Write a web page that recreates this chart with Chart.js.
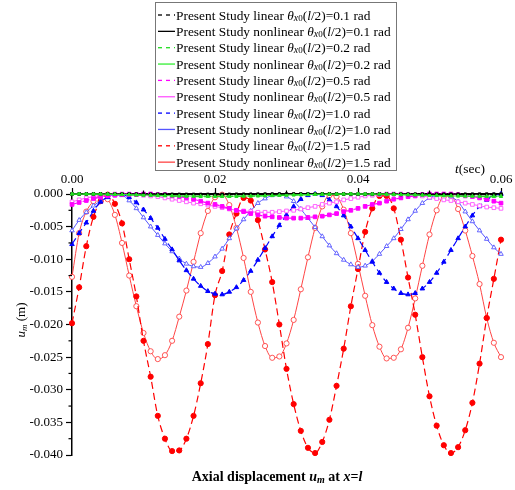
<!DOCTYPE html>
<html>
<head>
<meta charset="utf-8">
<script src="https://cdn.jsdelivr.net/npm/chart.js@4.4.1/dist/chart.umd.min.js"></script>
<style>
  html, body { margin: 0; padding: 0; background: #fff; }
  canvas { display: block; }
</style>
</head>
<body>
<canvas id="chart" width="515" height="490"></canvas>
<script>
// time axis (sec)
const times = [0, 0.001, 0.002, 0.003, 0.004, 0.005, 0.006, 0.007, 0.008, 0.009,
  0.010, 0.011, 0.012, 0.013, 0.014, 0.015, 0.016, 0.017, 0.018, 0.019,
  0.020, 0.021, 0.022, 0.023, 0.024, 0.025, 0.026, 0.027, 0.028, 0.029,
  0.030, 0.031, 0.032, 0.033, 0.034, 0.035, 0.036, 0.037, 0.038, 0.039,
  0.040, 0.041, 0.042, 0.043, 0.044, 0.045, 0.046, 0.047, 0.048, 0.049,
  0.050, 0.051, 0.052, 0.053, 0.054, 0.055, 0.056, 0.057, 0.058, 0.059, 0.060];

// axial displacement um (m)
const lin01 = [0, 0, 0, -0.00001, -0.00001, -0.00001, -0.00002, -0.00003, -0.00003, -0.00004, -0.00005, -0.00006, -0.00007, -0.00007, -0.00008, -0.00009, -0.00009, -0.00009, -0.0001, -0.0001, -0.0001,
  -0.0001, -0.0001, -0.00009, -0.00009, -0.00009, -0.00008, -0.00007, -0.00007, -0.00006, -0.00005, -0.00004, -0.00003, -0.00003, -0.00002, -0.00001, -0.00001, -0.00001, 0, 0, 0,
  0, 0, -0.00001, -0.00001, -0.00001, -0.00002, -0.00003, -0.00003, -0.00004, -0.00005, -0.00006, -0.00007, -0.00007, -0.00008, -0.00009, -0.00009, -0.00009, -0.0001, -0.0001, -0.0001];
const non01 = [0, 0, -0.00001, -0.00001, -0.00002, -0.00002, -0.00003, -0.00004, -0.00004, -0.00005, -0.00006, -0.00006, -0.00007, -0.00007, -0.00008, -0.00008, -0.00008, -0.00008, -0.00008, -0.00007, -0.00007,
  -0.00006, -0.00006, -0.00005, -0.00004, -0.00004, -0.00003, -0.00002, -0.00002, -0.00001, -0.00001, 0, 0, 0, -0.00001, -0.00001, -0.00002, -0.00002, -0.00003, -0.00004, -0.00004,
  -0.00005, -0.00006, -0.00006, -0.00007, -0.00007, -0.00008, -0.00008, -0.00008, -0.00008, -0.00007, -0.00007, -0.00006, -0.00005, -0.00004, -0.00004, -0.00003, -0.00002, -0.00001, -0.00001, 0];
const lin02 = [0, 0, -0.00001, -0.00002, -0.00004, -0.00006, -0.00008, -0.00011, -0.00014, -0.00017, -0.0002, -0.00023, -0.00026, -0.00029, -0.00032, -0.00034, -0.00036, -0.00038, -0.00039, -0.0004, -0.0004,
  -0.0004, -0.00039, -0.00038, -0.00036, -0.00034, -0.00032, -0.00029, -0.00026, -0.00023, -0.0002, -0.00017, -0.00014, -0.00011, -0.00008, -0.00006, -0.00004, -0.00002, -0.00001, 0, 0,
  0, -0.00001, -0.00002, -0.00004, -0.00006, -0.00008, -0.00011, -0.00014, -0.00017, -0.0002, -0.00023, -0.00026, -0.00029, -0.00032, -0.00034, -0.00036, -0.00038, -0.00039, -0.0004, -0.0004];
const non02 = [-0.00001, 0, 0, 0, -0.00001, -0.00003, -0.00005, -0.00007, -0.00009, -0.00012, -0.00015, -0.00018, -0.0002, -0.00023, -0.00026, -0.00028, -0.0003, -0.00032, -0.00033, -0.00034, -0.00034,
  -0.00034, -0.00034, -0.00033, -0.00031, -0.0003, -0.00027, -0.00025, -0.00022, -0.00019, -0.00016, -0.00013, -0.0001, -0.00008, -0.00005, -0.00004, -0.00002, -0.00001, 0, 0, 0,
  -0.00001, -0.00002, -0.00003, -0.00005, -0.00008, -0.0001, -0.00013, -0.00016, -0.00019, -0.00022, -0.00025, -0.00027, -0.0003, -0.00031, -0.00033, -0.00034, -0.00034, -0.00034, -0.00034, -0.00033];
const lin05 = [-0.0016, -0.0013, -0.0010, -0.0007, -0.0005, -0.0003, -0.0002, -0.0001, -0.0001, -0.0001,
  0, 0, -0.0001, -0.0001, -0.0003, -0.0004, -0.0006, -0.0008, -0.0011, -0.0014,
  -0.0016, -0.0019, -0.0022, -0.0025, -0.0027, -0.0030, -0.0032, -0.0034, -0.0035, -0.0036,
  -0.0037, -0.0037, -0.0037, -0.0036, -0.0035, -0.0034, -0.0032, -0.0030, -0.0027, -0.0025,
  -0.0022, -0.0019, -0.0016, -0.0014, -0.0011, -0.0008, -0.0006, -0.0004, -0.0003, -0.0001,
  0, 0, 0, 0, -0.0001, -0.0003, -0.0004, -0.0006, -0.0008, -0.0011, -0.0014];
const non05 = [-0.0012, -0.0009, -0.0006, -0.0004, -0.0002, -0.0001, 0, 0, 0, -0.0001,
  -0.0002, -0.0003, -0.0004, -0.0006, -0.0008, -0.0010, -0.0012, -0.0014, -0.0015, -0.0017,
  -0.0019, -0.0021, -0.0023, -0.0025, -0.0026, -0.0027, -0.0028, -0.0028, -0.0028, -0.0027,
  -0.0026, -0.0025, -0.0023, -0.0021, -0.0019, -0.0016, -0.0014, -0.0012, -0.0009, -0.0007,
  -0.0005, -0.0003, -0.0002, -0.0001, 0, 0, 0, -0.0001, -0.0002, -0.0003,
  -0.0005, -0.0007, -0.0009, -0.0010, -0.0012, -0.0014, -0.0016, -0.0018, -0.0020, -0.0021, -0.0022];
const lin10 = [-0.0077, -0.0060, -0.0044, -0.0026, -0.0012, -0.0005, -0.0001, -0.0001, -0.0005, -0.0013,
  -0.0024, -0.0037, -0.0052, -0.0069, -0.0085, -0.0102, -0.0117, -0.0130, -0.0141, -0.0149,
  -0.0153, -0.0154, -0.0150, -0.0143, -0.0132, -0.0118, -0.0101, -0.0083, -0.0065, -0.0048,
  -0.0032, -0.0019, -0.0008, -0.0002, 0, -0.0002, -0.0009, -0.0019, -0.0033, -0.0050,
  -0.0068, -0.0086, -0.0104, -0.0121, -0.0135, -0.0145, -0.0152, -0.0154, -0.0152, -0.0145,
  -0.0135, -0.0121, -0.0104, -0.0086, -0.0068, -0.0050, -0.0033, -0.0019, -0.0009, -0.0002, 0];
const non10 = [-0.0056, -0.0040, -0.0028, -0.0018, -0.0011, -0.0005, -0.0001, -0.0002, -0.0010, -0.0022,
  -0.0036, -0.0050, -0.0063, -0.0076, -0.0088, -0.0099, -0.0107, -0.0111, -0.0112, -0.0106,
  -0.0096, -0.0084, -0.0068, -0.0053, -0.0039, -0.0026, -0.0014, -0.0007, -0.0002, -0.0001,
  -0.0004, -0.0011, -0.0023, -0.0037, -0.0051, -0.0065, -0.0079, -0.0091, -0.0101, -0.0108,
  -0.0112, -0.0110, -0.0103, -0.0092, -0.0080, -0.0068, -0.0054, -0.0039, -0.0026, -0.0014,
  -0.0006, -0.0002, -0.0001, -0.0004, -0.0012, -0.0027, -0.0042, -0.0056, -0.0069, -0.0082, -0.0092];
const lin15 = [-0.0198, -0.0143, -0.0080, -0.0035, -0.0011, -0.0001, -0.0015, -0.0045, -0.0100, -0.0157,
  -0.0225, -0.0280, -0.0340, -0.0375, -0.0394, -0.0393, -0.0375, -0.0340, -0.0290, -0.0230,
  -0.0155, -0.0118, -0.0062, -0.0030, -0.0006, -0.0010, -0.0040, -0.0085, -0.0135, -0.0200,
  -0.0268, -0.0322, -0.0363, -0.0389, -0.0397, -0.0380, -0.0346, -0.0294, -0.0237, -0.0172,
  -0.0115, -0.0058, -0.0022, -0.0003, -0.0003, -0.0022, -0.0070, -0.0128, -0.0185, -0.0250,
  -0.0310, -0.0355, -0.0385, -0.0397, -0.0388, -0.0362, -0.0320, -0.0260, -0.0190, -0.0130, -0.0070];
const non15 = [-0.0127, -0.0060, -0.0027, -0.0011, -0.0002, -0.0008, -0.0032, -0.0075, -0.0125, -0.0172,
  -0.0213, -0.0241, -0.0253, -0.0247, -0.0225, -0.0188, -0.0148, -0.0104, -0.0060, -0.0026,
  -0.0005, -0.0001, -0.0017, -0.0052, -0.0098, -0.0150, -0.0197, -0.0233, -0.0251, -0.0249,
  -0.0229, -0.0193, -0.0146, -0.0097, -0.0052, -0.0019, -0.0002, -0.0004, -0.0024, -0.0060,
  -0.0107, -0.0156, -0.0201, -0.0234, -0.0252, -0.0251, -0.0238, -0.0205, -0.0160, -0.0110,
  -0.0062, -0.0025, -0.0004, -0.0003, -0.0023, -0.0056, -0.0095, -0.0138, -0.0190, -0.0228, -0.0250];

const thetas = ['0.1', '0.2', '0.5', '1.0', '1.5'];
const colorsLin = ['#000000', '#22dd22', '#ff00ff', '#0000ff', '#ff0000'];
const colorsNon = ['#000000', '#33ee33', '#ff55ff', '#5555ff', '#ff4444'];
const markers = ['rect', 'triangle', 'rect', 'triangle', 'circle'];
const markerSize = [1.8, 1.8, 2.6, 2.6, 2.6];
const linSeries = [lin01, lin02, lin05, lin10, lin15];
const nonSeries = [non01, non02, non05, non10, non15];

const FONT = '"Liberation Serif", "Times New Roman", serif';

function toXY(vals) {
  return vals.map((v, i) => ({ x: times[i], y: v }));
}

// legend entries in reference order
const entries = [];
thetas.forEach((th, k) => {
  entries.push({ kind: 'linear', th, color: colorsLin[k], dashed: true });
  entries.push({ kind: 'nonlinear', th, color: colorsNon[k], dashed: false });
});

const datasets = [];
// draw order: index 0 ends on top
[1, 0, 2, 3, 4].forEach(k => {
  datasets.push({
    label: 'linear ' + thetas[k],
    data: toXY(linSeries[k]),
    borderColor: colorsLin[k],
    backgroundColor: colorsLin[k],
    borderWidth: 1.2,
    borderDash: [7, 4],
    pointStyle: markers[k],
    pointRadius: markerSize[k],
    pointBorderWidth: 1,
    pointBackgroundColor: colorsLin[k],
    cubicInterpolationMode: 'monotone'
  });
  datasets.push({
    label: 'nonlinear ' + thetas[k],
    data: toXY(nonSeries[k]),
    borderColor: colorsNon[k],
    backgroundColor: '#fff',
    borderWidth: 1,
    pointStyle: markers[k],
    pointRadius: markerSize[k],
    pointBorderWidth: 0.9,
    pointBackgroundColor: '#fff',
    cubicInterpolationMode: 'monotone'
  });
});

// draws mixed-style text pieces starting at x, returns end x
function drawRuns(ctx, runs, x, y) {
  runs.forEach(r => {
    ctx.font = r.font;
    ctx.fillText(r.t, x, y + (r.dy || 0));
    x += ctx.measureText(r.t).width;
  });
  return x;
}
function runsWidth(ctx, runs) {
  let w = 0;
  runs.forEach(r => { ctx.font = r.font; w += ctx.measureText(r.t).width; });
  return w;
}

const decorPlugin = {
  id: 'decor',
  afterDraw(chart) {
    const ctx = chart.ctx;
    const xs = chart.scales.x, ys = chart.scales.y;
    const area = chart.chartArea;
    ctx.save();
    ctx.strokeStyle = '#000';
    ctx.lineWidth = 1.2;
    // minor ticks
    [0.01, 0.03, 0.05].forEach(v => {
      const px = xs.getPixelForValue(v);
      ctx.beginPath(); ctx.moveTo(px, area.top); ctx.lineTo(px, area.top - 3.5); ctx.stroke();
    });
    for (let k = 0; k < 8; k++) {
      const py = ys.getPixelForValue(-0.0025 - 0.005 * k);
      ctx.beginPath(); ctx.moveTo(area.left, py); ctx.lineTo(area.left - 3.5, py); ctx.stroke();
    }

    ctx.fillStyle = '#000';
    ctx.textBaseline = 'alphabetic';
    // t(sec)
    drawRuns(ctx, [
      { t: 't', font: 'italic 13.5px ' + FONT },
      { t: '(sec)', font: '13.5px ' + FONT }
    ], 455, 173);

    // y title
    const yRuns = [
      { t: 'u', font: 'italic 13px ' + FONT },
      { t: 'm', font: 'italic 9px ' + FONT, dy: 2 },
      { t: ' (m)', font: '13px ' + FONT }
    ];
    ctx.save();
    ctx.translate(25, 320);
    ctx.rotate(-Math.PI / 2);
    drawRuns(ctx, yRuns, -runsWidth(ctx, yRuns) / 2, 0);
    ctx.restore();

    // x title
    const xRuns = [
      { t: 'Axial displacement ', font: 'bold 14px ' + FONT },
      { t: 'u', font: 'italic bold 14px ' + FONT },
      { t: 'm', font: 'italic bold 10px ' + FONT, dy: 2 },
      { t: ' at ', font: 'bold 14px ' + FONT },
      { t: 'x', font: 'italic bold 14px ' + FONT },
      { t: '=', font: 'bold 14px ' + FONT },
      { t: 'l', font: 'italic bold 14px ' + FONT }
    ];
    drawRuns(ctx, xRuns, 277 - runsWidth(ctx, xRuns) / 2, 481);

    // legend
    const bx = 155, by = 2, bw = 241, bh = 168;
    ctx.fillStyle = '#fff';
    ctx.fillRect(bx, by, bw, bh);
    ctx.strokeStyle = '#777';
    ctx.lineWidth = 1;
    ctx.strokeRect(bx + 0.5, by + 0.5, bw, bh);
    entries.forEach((e, i) => {
      const y = 15 + i * 16.35;
      ctx.save();
      ctx.strokeStyle = e.color;
      ctx.lineWidth = 1.3;
      if (e.dashed) ctx.setLineDash([4, 4]);
      ctx.beginPath(); ctx.moveTo(158, y); ctx.lineTo(175, y); ctx.stroke();
      ctx.restore();
      ctx.fillStyle = '#000';
      drawRuns(ctx, [
        { t: 'Present Study ' + e.kind + ' ', font: '13.4px ' + FONT },
        { t: 'θ', font: 'italic 13.4px ' + FONT },
        { t: 'x', font: 'italic 10px ' + FONT, dy: 1 },
        { t: '0', font: '9px ' + FONT, dy: 1 },
        { t: '(', font: '13.4px ' + FONT },
        { t: 'l', font: 'italic 13.4px ' + FONT },
        { t: '/2)=' + e.th + ' rad', font: '13.4px ' + FONT }
      ], 176, y + 4.5);
    });
    ctx.restore();
  }
};

new Chart(document.getElementById('chart'), {
  type: 'line',
  data: { datasets },
  options: {
    responsive: false,
    animation: false,
    devicePixelRatio: 1,
    clip: false,
    layout: { padding: { left: 0, right: 14, top: 170, bottom: 35 } },
    plugins: { legend: { display: false }, tooltip: { enabled: false } },
    scales: {
      x: {
        type: 'linear',
        position: 'top',
        min: 0, max: 0.06,
        afterFit: s => { s.height = 24; },
        ticks: {
          stepSize: 0.02,
          padding: 1,
          color: '#000',
          font: { family: FONT, size: 13 },
          callback: v => v.toFixed(2)
        },
        grid: { drawOnChartArea: false, drawTicks: true, tickLength: 6, color: '#000', tickWidth: 1.2 },
        border: { color: '#000', width: 1.5 }
      },
      y: {
        min: -0.04, max: 0,
        afterFit: s => { s.width = 72; },
        ticks: {
          stepSize: 0.005,
          padding: 3,
          color: '#000',
          font: { family: FONT, size: 13 },
          callback: v => (Math.abs(v) < 1e-9 ? 0 : v).toFixed(3)
        },
        grid: { drawOnChartArea: false, drawTicks: true, tickLength: 6, color: '#000', tickWidth: 1.2 },
        border: { color: '#000', width: 1.5 }
      }
    }
  },
  plugins: [decorPlugin]
});
</script>
</body>
</html>
